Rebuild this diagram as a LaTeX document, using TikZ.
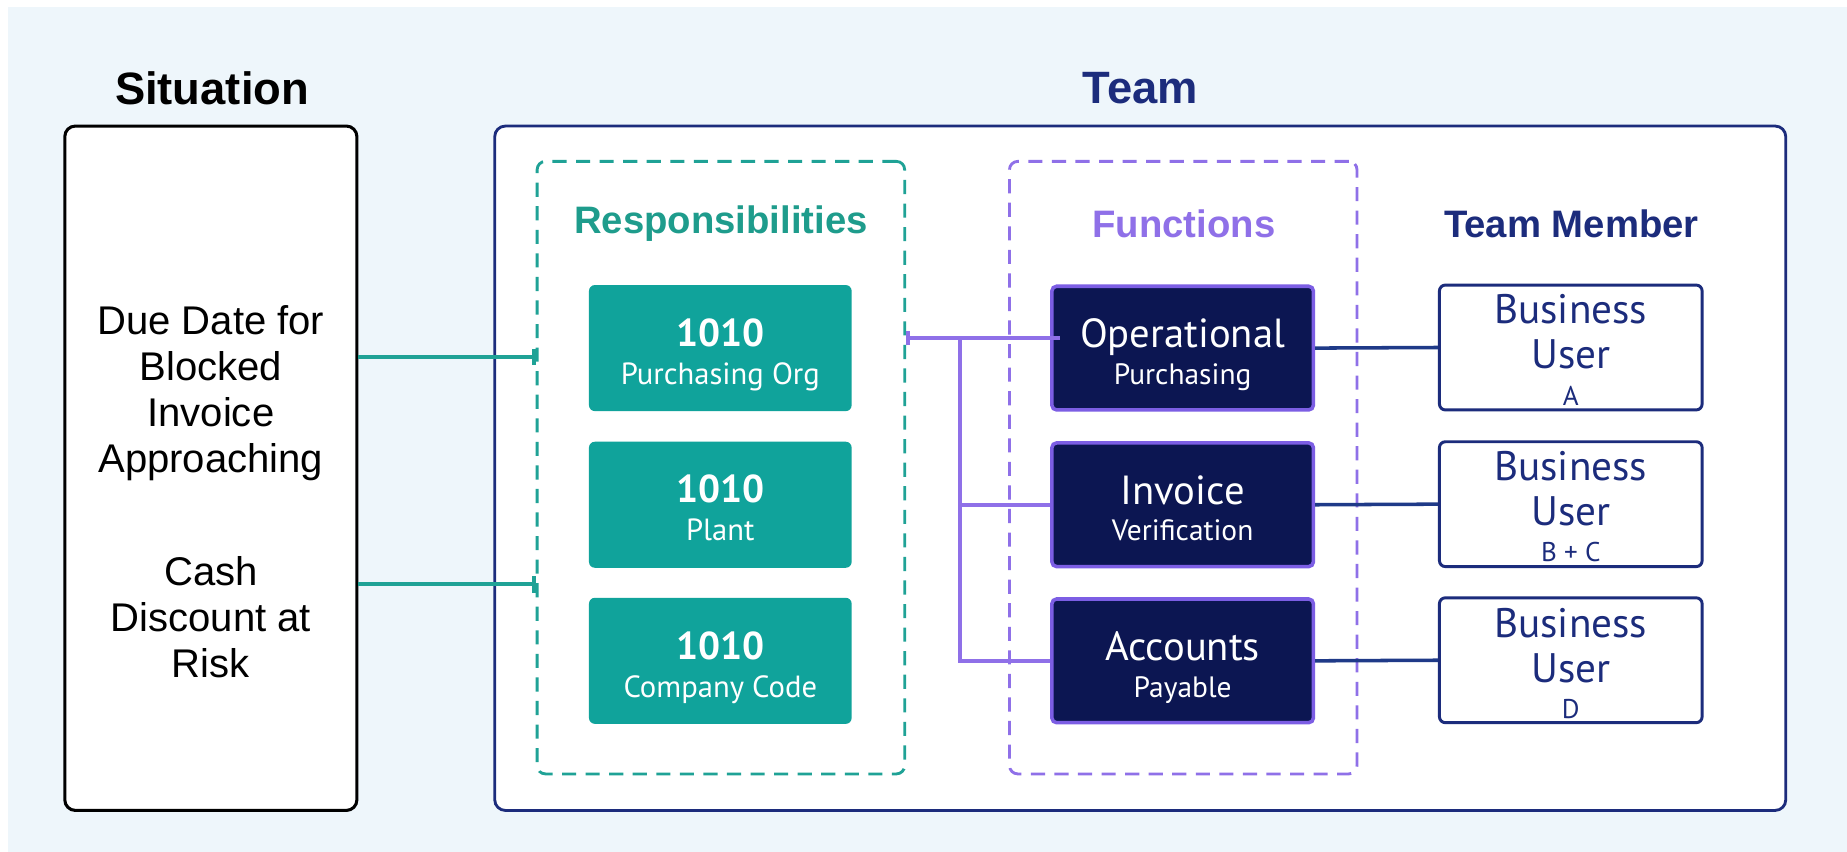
\documentclass[tikz,border=0pt]{standalone}
\usepackage{fontspec}
\setmainfont{Liberation Sans}
\newfontfamily\boxfont{PT Sans}
\usetikzlibrary{arrows.meta}
\definecolor{bgblue}{HTML}{EEF6FB}
\definecolor{tealfill}{HTML}{10A39B}
\definecolor{tealline}{HTML}{1FA296}
\definecolor{tealtitle}{HTML}{1E9C8C}
\definecolor{purp}{HTML}{8F70E8}
\definecolor{purpborder}{HTML}{7C5EE4}
\definecolor{darknavy}{HTML}{0C1652}
\definecolor{navy}{HTML}{1C2C7C}
\definecolor{navyline}{HTML}{1F3A88}
\begin{document}
\begin{tikzpicture}[x=1pt,y=-1pt,
  bigtitle/.style={font=\bfseries\fontsize{38.5}{42}\selectfont},
  header/.style={font=\bfseries\fontsize{32.5}{36}\selectfont},
  sittext/.style={font=\fontsize{34}{39}\selectfont, align=center},
  sitframe/.style={draw=black, line width=2.6pt, fill=white, rounded corners=9pt, inner sep=0pt, minimum width=248pt, minimum height=581pt},
  teamframe/.style={draw=navy, line width=2.4pt, fill=white, rounded corners=9pt, inner sep=0pt, minimum width=1096pt, minimum height=581pt},
  respframe/.style={draw=tealline, line width=2.4pt, dash pattern=on 12pt off 8pt, rounded corners=7pt, inner sep=0pt, minimum width=312pt, minimum height=520pt},
  funcframe/.style={draw=purp, line width=2.4pt, dash pattern=on 12pt off 8pt, rounded corners=7pt, inner sep=0pt, minimum width=295pt, minimum height=520pt},
  tealbox/.style={fill=tealfill, rounded corners=5pt, inner sep=0pt, minimum width=223pt, minimum height=107pt},
  funcbox/.style={fill=darknavy, draw=purpborder, line width=3pt, rounded corners=4pt, inner sep=0pt, minimum width=222pt, minimum height=105pt},
  userbox/.style={fill=white, draw=navy, line width=2.5pt, rounded corners=5pt, inner sep=0pt, minimum width=223pt, minimum height=106pt},
  numtxt/.style={anchor=base, text=white, inner sep=0pt, font=\boxfont\bfseries\fontsize{33}{36}\selectfont},
  subtxt/.style={anchor=base, text=white, inner sep=0pt, font=\boxfont\fontsize{26}{30}\selectfont},
  fsubtxt/.style={anchor=base, text=white, inner sep=0pt, font=\boxfont\fontsize{25}{29}\selectfont},
  maintxt/.style={anchor=base, text=white, inner sep=0pt, font=\boxfont\fontsize{34.5}{38}\selectfont},
  usertxt/.style={anchor=base, text=navy, inner sep=0pt, font=\boxfont\fontsize{35}{38}\selectfont},
  lettertxt/.style={anchor=base, text=navy, inner sep=0pt, font=\boxfont\fontsize{23}{26}\selectfont},
  tealconn/.style={draw=tealline, line width=3pt},
  purpconn/.style={draw=purp, line width=3pt},
  navyconn/.style={draw=navyline, line width=3pt}
]
\useasboundingbox (0,0) rectangle (1568,723);
\fill[white] (0,0) rectangle (1568,723);
\fill[bgblue] (7,6) rectangle (1568,723);

% frames
\node[sitframe] (sit) at (179,397.5) {};
\node[teamframe] (team) at (968,397.5) {};
\node[bigtitle] (sittitle) at (180,75) {Situation};
\node[bigtitle, text=navy] (teamtitle) at (968,75) {Team};
\node[respframe] (resp) at (612,397) {};
\node[funcframe] (func) at (1004.5,397) {};
\node[header, text=tealtitle] (resph) at (612,190) {Responsibilities};
\node[header, text=purp] (funch) at (1005,190) {Functions};
\node[header, text=navy] (memh) at (1334,190) {Team Member};

% situation texts
\node[sittext] (due) at (179,334) {Due Date for\\Blocked\\Invoice\\Approaching};
\node[sittext] (cash) at (179,524) {Cash\\Discount at\\Risk};

% responsibilities
\node[tealbox] (t1) at (611.5,295.5) {};
\node[tealbox] (t2) at (611.5,428.5) {};
\node[tealbox] (t3) at (611.5,561) {};
\node[numtxt] (t1n) at (611.5,294) {1010};
\node[subtxt] (t1s) at (611.5,326) {Purchasing Org};
\node[numtxt] (t2n) at (611.5,427) {1010};
\node[subtxt] (t2s) at (611.5,459) {Plant};
\node[numtxt] (t3n) at (611.5,560) {1010};
\node[subtxt] (t3s) at (611.5,592) {Company Code};

% functions
\node[funcbox] (op) at (1004,295.5) {};
\node[funcbox] (inv) at (1004,428.5) {};
\node[funcbox] (acc) at (1004,561) {};
\node[maintxt] (opm) at (1004,295) {Operational};
\node[fsubtxt] (ops) at (1004,326) {Purchasing};
\node[maintxt] (invm) at (1004,428) {Invoice};
\node[fsubtxt] (invs) at (1004,459) {Verification};
\node[maintxt] (accm) at (1004,561) {Accounts};
\node[fsubtxt] (accs) at (1004,592) {Payable};

% team members
\node[userbox] (u1) at (1333.5,295) {};
\node[userbox] (u2) at (1333.5,428) {};
\node[userbox] (u3) at (1333.5,560.5) {};
\node[usertxt] (u1a) at (1333.5,275) {Business};
\node[usertxt] (u1b) at (1333.5,313) {User};
\node[lettertxt] (u1c) at (1333.5,344) {A};
\node[usertxt] (u2a) at (1333.5,408) {Business};
\node[usertxt] (u2b) at (1333.5,446) {User};
\node[lettertxt] (u2c) at (1333.5,477) {B + C};
\node[usertxt] (u3a) at (1333.5,541) {Business};
\node[usertxt] (u3b) at (1333.5,579) {User};
\node[lettertxt] (u3c) at (1333.5,610) {D};

% connectors
\coordinate (ya) at (0,303);
\coordinate (yb) at (0,496);
\coordinate (j) at (815,287);
\draw[tealconn, -{Bar[width=14pt]}] (sit.east |- ya) -- (resp.west |- ya);
\draw[tealconn, -{Bar[width=14pt]}] (sit.east |- yb) -- (resp.west |- yb);
\draw[purpconn, {Bar[width=12pt]}-] (resp.east |- j) -- ([xshift=8pt]op.west |- j);
\draw[purpconn] (j) |- (inv.west);
\draw[purpconn] (j) |- (acc.west);
\draw[navyconn] (op.east) -- (u1.west);
\draw[navyconn] (inv.east) -- (u2.west);
\draw[navyconn] (acc.east) -- (u3.west);
\end{tikzpicture}
\end{document}
